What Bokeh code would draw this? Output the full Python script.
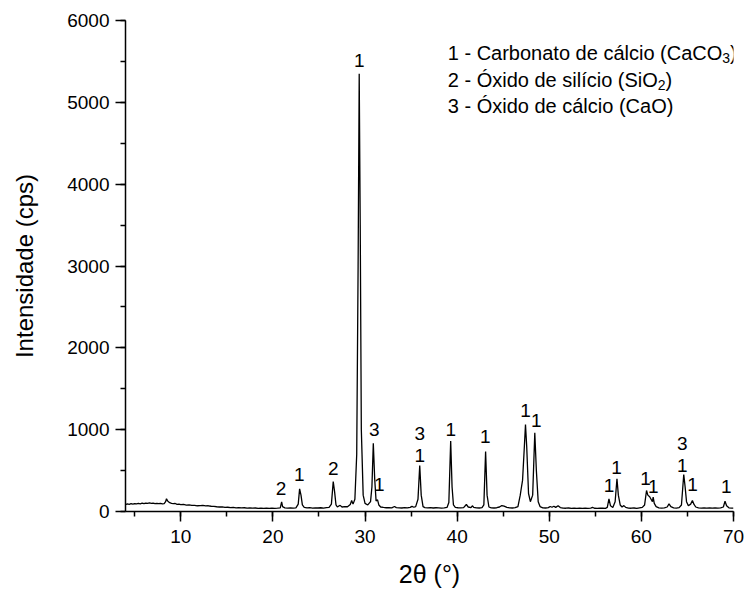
from bokeh.plotting import figure
from bokeh.models import Range1d, SingleIntervalTicker, Label
from bokeh.embed import file_html
from bokeh.resources import INLINE
from bokeh.core.properties import value

two_theta = [4.0, 4.2, 4.4, 4.6, 4.8, 5.0, 5.2, 5.4, 5.6, 5.8, 6.0, 6.2, 6.4, 6.6, 6.8, 7.0, 7.2, 7.4, 7.6, 7.8,
             8.0, 8.2, 8.35, 8.45, 8.6, 8.8, 9.0, 9.2, 9.4, 9.6, 9.8, 10.0, 10.3, 10.6, 10.9, 11.2, 11.5, 11.8,
             12.1, 12.4, 12.7, 13.0, 13.3, 13.6, 13.9, 14.2, 14.5, 14.8, 15.1, 15.4, 15.7, 16.0, 16.3, 16.6,
             16.9, 17.2, 17.5, 17.8, 18.1, 18.4, 18.7, 19.0, 19.3, 19.6, 19.9, 20.2, 20.5, 20.8, 20.95, 21.05,
             21.3, 21.6, 21.9, 22.2, 22.5, 22.75, 22.9, 23.05, 23.2, 23.4, 23.7, 24.0, 24.3, 24.6, 24.9, 25.2,
             25.5, 25.8, 26.1, 26.35, 26.55, 26.7, 26.85, 27.0, 27.2, 27.3, 27.5, 27.8, 28.1, 28.4, 28.55,
             28.7, 28.9, 29.1, 29.25, 29.37, 29.48, 29.6, 29.8, 30.0, 30.3, 30.6, 30.75, 30.9, 31.05, 31.2,
             31.36, 31.5, 31.7, 32.0, 32.3, 32.6, 32.9, 33.2, 33.4, 33.7, 34.0, 34.3, 34.6, 34.9, 35.1, 35.3,
             35.5, 35.75, 35.94, 36.1, 36.3, 36.5, 36.8, 37.1, 37.4, 37.7, 38.0, 38.3, 38.6, 38.9, 39.1, 39.3,
             39.45, 39.6, 39.8, 40.1, 40.4, 40.7, 41.0, 41.2, 41.5, 41.65, 41.8, 42.1, 42.4, 42.7, 42.9, 43.09,
             43.25, 43.45, 43.7, 44.0, 44.3, 44.6, 44.85, 45.1, 45.4, 45.7, 46.0, 46.3, 46.6, 46.85, 46.96,
             47.1, 47.3, 47.42, 47.55, 47.75, 47.95, 48.2, 48.43, 48.6, 48.8, 49.0, 49.3, 49.6, 49.9, 50.1,
             50.3, 50.5, 50.7, 50.96, 51.2, 51.5, 51.8, 52.1, 52.4, 52.7, 53.0, 53.3, 53.6, 53.9, 54.2, 54.5,
             54.7, 54.9, 55.2, 55.5, 55.8, 56.1, 56.3, 56.48, 56.65, 56.9, 57.15, 57.35, 57.5, 57.7, 57.9,
             58.1, 58.3, 58.6, 58.9, 59.2, 59.5, 59.8, 60.1, 60.35, 60.56, 60.7, 60.9, 61.05, 61.2, 61.28,
             61.4, 61.6, 61.9, 62.2, 62.5, 62.8, 63.0, 63.2, 63.5, 63.8, 64.1, 64.35, 64.6, 64.75, 64.9, 65.1,
             65.35, 65.54, 65.7, 65.9, 66.2, 66.5, 66.8, 67.1, 67.4, 67.7, 68.0, 68.3, 68.6, 68.9, 69.08,
             69.25, 69.5, 69.8, 70.0]
intensity = [85, 92, 88, 95, 90, 97, 93, 99, 94, 101, 96, 103, 98, 104, 99, 102, 97, 100, 95, 98,
             94, 97, 120, 155, 125, 108, 100, 95, 98, 88, 90, 84, 86, 78, 80, 74, 76, 70,
             72, 74, 68, 70, 64, 62, 58, 55, 57, 50, 52, 48, 50, 45, 47, 44,
             46, 42, 45, 40, 43, 39, 42, 38, 41, 37, 40, 38, 41, 45, 118, 60,
             44, 40, 43, 41, 45, 90, 277, 200, 80, 50, 44, 48, 42, 45, 43, 46,
             42, 47, 50, 90, 367, 240, 80, 55, 70, 75, 55, 60, 58, 85, 134,
             90, 150, 700, 3000, 5350, 3500, 1000, 200, 100, 80, 120, 300, 835, 400, 130,
             143, 80, 55, 50, 46, 48, 44, 61, 48, 45, 43, 47, 44, 50, 62, 52,
             60, 150, 562, 200, 60, 48, 45, 47, 43, 46, 44, 42, 45, 50, 110, 860,
             300, 80, 50, 46, 44, 48, 86, 55, 48, 70, 50, 45, 43, 47, 80, 733,
             200, 55, 45, 43, 46, 55, 73, 65, 50, 45, 43, 47, 60, 200, 281,
             380, 800, 1063, 800, 220, 120, 200, 962, 500, 120, 60, 45, 43, 47, 61,
             52, 64, 50, 70, 48, 42, 40, 43, 39, 41, 38, 40, 37, 40, 38, 42,
             50, 40, 38, 40, 42, 39, 50, 155, 70, 50, 120, 400, 200, 80, 55,
             72, 50, 42, 40, 43, 39, 45, 50, 80, 257, 200, 180, 150, 120, 175,
             100, 60, 45, 42, 44, 55, 94, 60, 45, 42, 47, 80, 452, 300, 120, 70,
             90, 134, 90, 55, 45, 42, 44, 41, 45, 40, 44, 41, 45, 55, 126,
             70, 45, 40, 42]

# peak assignments (label text and their positions)
peak_label_x = [29.37, 20.89, 22.87, 26.56, 31.0, 31.54, 35.94, 35.94, 39.3, 43.06, 47.42, 48.58,
                56.48, 57.31, 60.45, 61.28, 64.45, 64.45, 65.54, 69.22]
peak_label_y = [5513, 277, 452, 522, 999, 330, 950, 685, 999, 917, 1235, 1112,
                318, 542, 400, 306, 828, 562, 330, 306]
peak_label_text = ["1", "2", "1", "2", "3", "1", "3", "1", "1", "1", "1", "1",
                   "1", "1", "1", "1", "3", "1", "1", "1"]

legend_lines = ["1 - Carbonato de cálcio (CaCO", "2 - Óxido de silício (SiO", "3 - Óxido de cálcio (CaO)"]
legend_subs = ["3", "2", ""]

FONT = "Liberation Sans"

p = figure(width=747, height=595, x_range=Range1d(4, 70), y_range=Range1d(0, 6000),
           output_backend="svg", toolbar_location=None,
           min_border_left=125, min_border_right=14, min_border_top=20, min_border_bottom=84)
p.outline_line_color = None
p.xgrid.visible = False
p.ygrid.visible = False
p.background_fill_color = "white"
p.border_fill_color = "white"

p.line(two_theta, intensity, line_color="black", line_width=1.3)

p.text(x=peak_label_x, y=peak_label_y, text=peak_label_text, text_font=value(FONT),
       text_font_size="19px", text_align="center", text_baseline="middle", text_color="black")

# legend text block
lx = 38.98
ly = [5603, 5269, 4951]
char_w = {"1": 556, "2": 556, "3": 556, " ": 278, "-": 333, "C": 722, "a": 556, "r": 333, "b": 556,
          "o": 556, "n": 556, "t": 278, "d": 556, "e": 556, "c": 500, "á": 556, "l": 222, "i": 222,
          "(": 333, ")": 333, "O": 778, "Ó": 778, "x": 500, "s": 500, "S": 667, "í": 278}
fs = 20
for txt, sub, yy in zip(legend_lines, legend_subs, ly):
    p.add_layout(Label(x=lx, y=yy, text=txt, text_font=FONT, text_font_size=f"{fs}px",
                       text_baseline="middle", text_align="left", text_color="black"))
    if sub:
        w = sum(char_w.get(c, 556) for c in txt) * fs / 1000.0
        p.add_layout(Label(x=lx, y=yy, x_offset=w, y_offset=-5, text=sub, text_font=FONT,
                           text_font_size="14px", text_baseline="middle", text_align="left",
                           text_color="black"))
        p.add_layout(Label(x=lx, y=yy, x_offset=w + 7.8, text=")", text_font=FONT,
                           text_font_size=f"{fs}px", text_baseline="middle", text_align="left",
                           text_color="black"))

p.xaxis.ticker = SingleIntervalTicker(interval=10, num_minor_ticks=2)
p.yaxis.ticker = SingleIntervalTicker(interval=1000, num_minor_ticks=2)
for ax in (p.xaxis[0], p.yaxis[0]):
    ax.axis_line_width = 1.5
    ax.major_tick_line_width = 1.5
    ax.minor_tick_line_width = 1.5
    ax.major_tick_in = 0
    ax.major_tick_out = 10
    ax.minor_tick_in = 0
    ax.minor_tick_out = 5
    ax.major_label_text_font = FONT
    ax.major_label_text_font_size = "19px"
    ax.major_label_text_color = "black"
    ax.axis_label_text_font = FONT
    ax.axis_label_text_font_style = "normal"
    ax.axis_label_text_color = "black"
    ax.axis_line_color = "black"
    ax.major_tick_line_color = "black"
    ax.minor_tick_line_color = "black"

p.xaxis.axis_label = "2θ (°)"
p.yaxis.axis_label = "Intensidade (cps)"
p.xaxis.axis_label_text_font_size = "25px"
p.yaxis.axis_label_text_font_size = "24px"
p.xaxis.major_label_standoff = 8
p.yaxis.major_label_standoff = 6
p.xaxis.axis_label_standoff = 14
p.yaxis.axis_label_standoff = 26

open("out.html", "w").write(file_html(p, INLINE))
